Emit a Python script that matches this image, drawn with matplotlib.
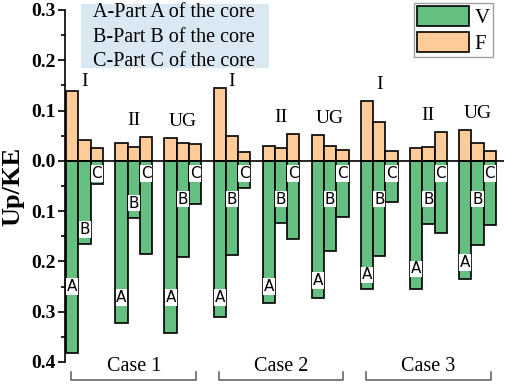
import numpy as np
import matplotlib.pyplot as plt
from matplotlib.patches import Patch, Rectangle
from matplotlib.ticker import FuncFormatter, MultipleLocator
import matplotlib.transforms as mtransforms

plt.rcParams['font.family'] = ['Liberation Serif', 'DejaVu Serif']

# 9 groups (Case 1-3, each with I / II / UG), parts A, B, C
groups = ['I', 'II', 'UG', 'I', 'II', 'UG', 'I', 'II', 'UG']
cases = ['Case 1', 'Case 2', 'Case 3']
parts = ['A', 'B', 'C']

F_A = [0.138, 0.036, 0.046, 0.145, 0.030, 0.052, 0.119, 0.025, 0.062]
F_B = [0.042, 0.028, 0.036, 0.050, 0.026, 0.030, 0.077, 0.028, 0.035]
F_C = [0.026, 0.048, 0.033, 0.018, 0.053, 0.022, 0.020, 0.058, 0.020]

V_A = [0.382, 0.323, 0.343, 0.310, 0.283, 0.273, 0.254, 0.255, 0.235]
V_B = [0.166, 0.114, 0.191, 0.188, 0.123, 0.179, 0.189, 0.125, 0.167]
V_C = [0.046, 0.185, 0.085, 0.054, 0.156, 0.112, 0.081, 0.144, 0.127]

# depth of the A/B/C tags inside the green bars
tag_A = [0.25, 0.272, 0.272, 0.272, 0.25, 0.238, 0.227, 0.215, 0.202]
tag_B = [0.137, 0.084, 0.076, 0.076, 0.076, 0.076, 0.076, 0.076, 0.076]
tag_C = [0.025] * 9

green = '#64bf80'
orange = '#ffcc99'

W, H = 505, 384
fig = plt.figure(figsize=(W / 100, H / 100), dpi=100)
ax = fig.add_axes([0.1287, 0.0573, 0.8703, 0.9167])

x = np.arange(len(groups))
w = 0.25
F = [F_A, F_B, F_C]
V = [V_A, V_B, V_C]
tags = [tag_A, tag_B, tag_C]
for k in range(3):
    xs = x + (k - 1) * w
    ax.bar(xs, F[k], w, color=orange, edgecolor='black', linewidth=1.2, zorder=2)
    ax.bar(xs, -np.array(V[k]), w, color=green, edgecolor='black', linewidth=1.2, zorder=2)
    for i in range(len(groups)):
        ax.text(xs[i], -tags[k][i], parts[k], ha='center', va='center',
                fontsize=11, family='DejaVu Sans', zorder=3,
                bbox=dict(facecolor='white', edgecolor='none', pad=0.6))

# group names above bars (kept under the description box)
for i, g in enumerate(groups):
    top = max(F_A[i], F_B[i], F_C[i])
    ax.text(x[i], min(top + 0.033, 0.158), g, ha='center', va='center', fontsize=14)

ax.axhline(0, color='black', linewidth=1.2, zorder=3)

ax.set_xlim(-0.4, 8.55)
ax.set_ylim(-0.4, 0.3)
ax.set_xticks([])
for s in ['top', 'right', 'bottom']:
    ax.spines[s].set_visible(False)
ax.spines['left'].set_linewidth(1.2)
ax.yaxis.set_major_locator(MultipleLocator(0.1))
ax.yaxis.set_minor_locator(MultipleLocator(0.05))
ax.yaxis.set_major_formatter(FuncFormatter(lambda v, p: '%.1f' % abs(v)))
ax.tick_params(axis='y', which='major', length=5, width=1.2, labelsize=14, pad=2)
ax.tick_params(axis='y', which='minor', length=3, width=1.2)
for t in ax.get_yticklabels():
    t.set_fontweight('bold')
ax.set_ylabel('Up/KE', fontsize=19, fontweight='bold', labelpad=0)
ax.yaxis.set_label_coords(-0.092, 0.5)

# case brackets below the plot
trans = mtransforms.blended_transform_factory(ax.transData, ax.transAxes)
for c, name in enumerate(cases):
    cx = 3 * c + 1
    ax.plot([cx - 1.27, cx - 1.27, cx + 1.27, cx + 1.27], [-0.028, -0.051, -0.051, -0.028],
            color='#666666', linewidth=1.2, transform=trans, clip_on=False)
    ax.text(cx, -0.012, name, ha='center', va='center', fontsize=14.5,
            transform=trans, clip_on=False)

# description box
fig.patches.append(Rectangle((81 / W, 1 - 68 / H), 188 / W, 64 / H,
                             transform=fig.transFigure, facecolor='#d9e8f2',
                             edgecolor='none', zorder=5))
fig.text(174 / W, 1 - 37 / H, 'A-Part A of the core\nB-Part B of the core\nC-Part C of the core',
         ha='center', va='center', fontsize=14.5, linespacing=1.4, zorder=6)

handles = [Patch(facecolor=green, edgecolor='black', linewidth=1.2),
           Patch(facecolor=orange, edgecolor='black', linewidth=1.2)]
leg = fig.legend(handles, ['V', 'F'], loc='upper right', bbox_to_anchor=(493 / W, 1 - 3 / H),
                 fontsize=15, frameon=True, fancybox=False, handlelength=2.45,
                 handleheight=1.06, labelspacing=0.2, handletextpad=0.3,
                 borderpad=0.15, borderaxespad=0.0)
leg.get_frame().set_edgecolor('#888888')
leg.get_frame().set_linewidth(1.0)

fig.savefig('out.png', dpi=100)
